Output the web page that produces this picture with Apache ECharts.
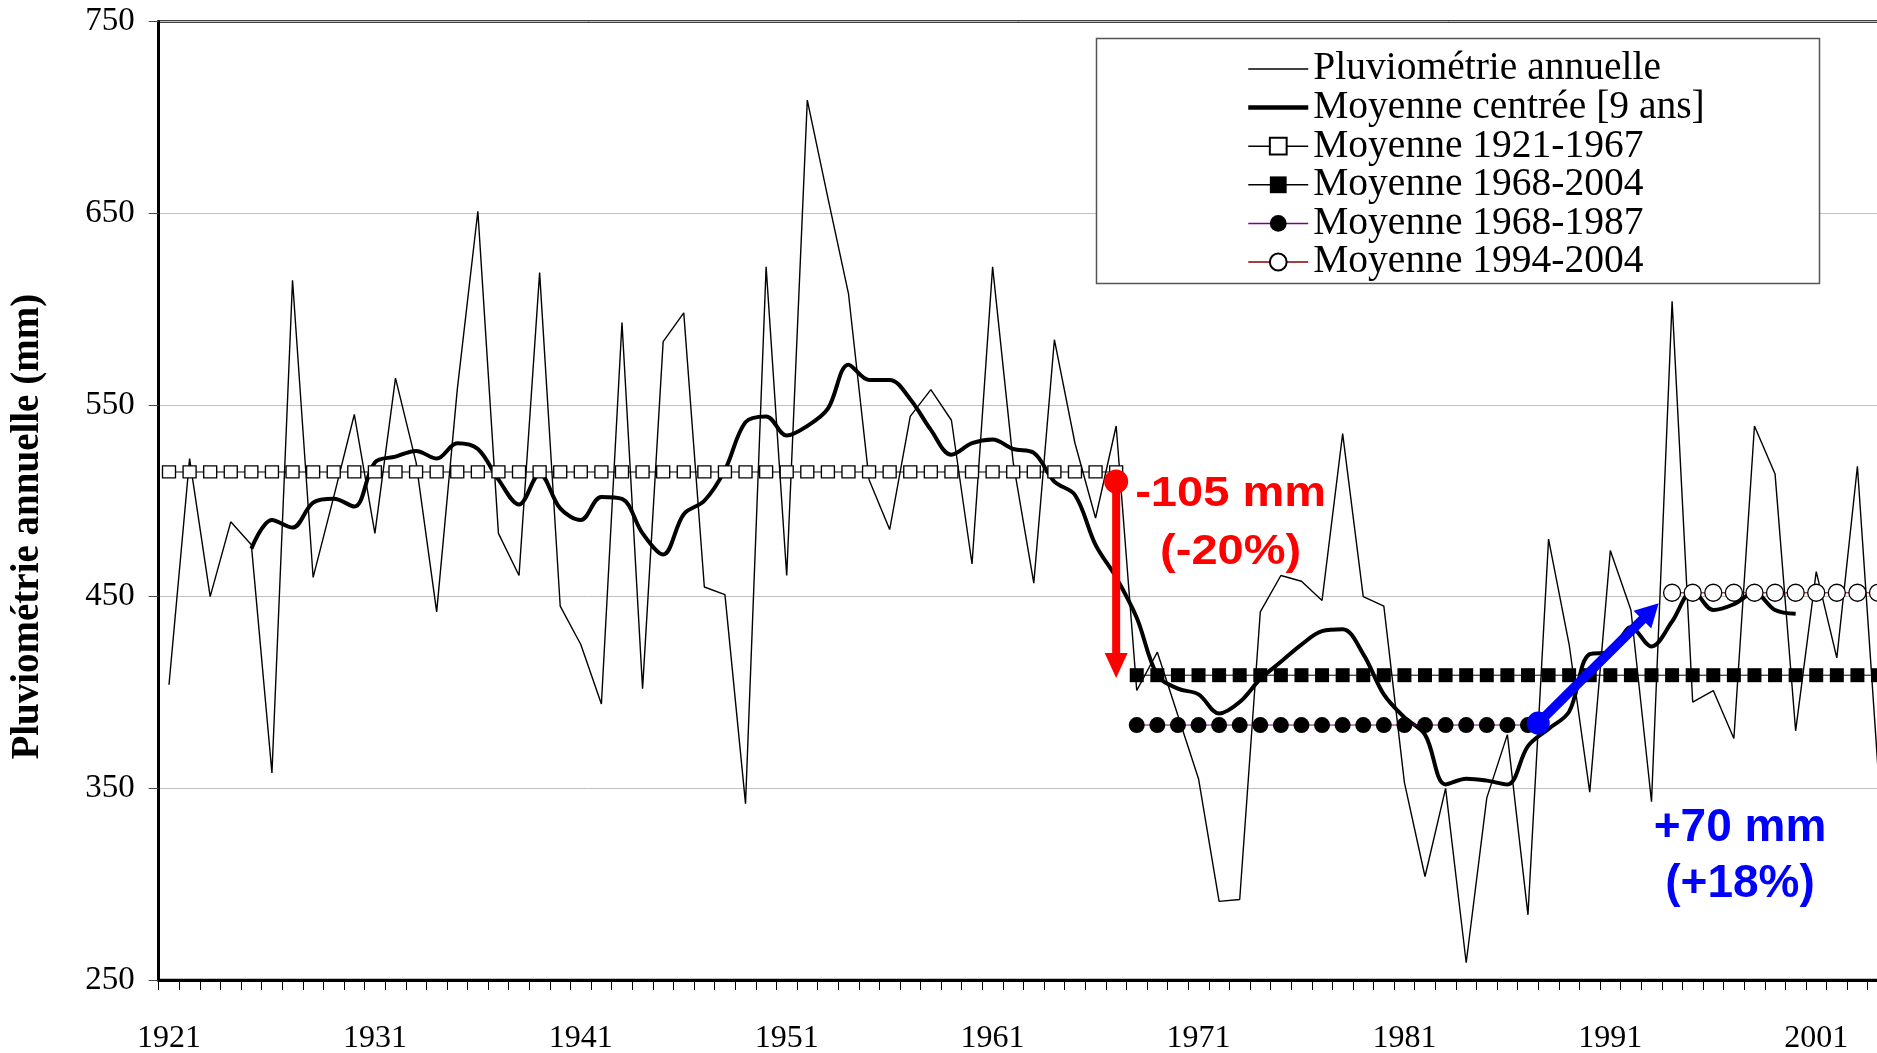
<!DOCTYPE html>
<html>
<head>
<meta charset="utf-8">
<script src="https://cdn.jsdelivr.net/npm/echarts@6/dist/echarts.min.js"></script>
<style>
html,body{margin:0;padding:0;background:#fff;}
#chart{width:1877px;height:1053px;}
</style>
</head>
<body>
<div id="chart"></div>
<script>
// ---- categories ----
const years = [
  1921,1922,1923,1924,1925,1926,1927,1928,1929,1930,
  1931,1932,1933,1934,1935,1936,1937,1938,1939,1940,
  1941,1942,1943,1944,1945,1946,1947,1948,1949,1950,
  1951,1952,1953,1954,1955,1956,1957,1958,1959,1960,
  1961,1962,1963,1964,1965,1966,1967,1968,1969,1970,
  1971,1972,1973,1974,1975,1976,1977,1978,1979,1980,
  1981,1982,1983,1984,1985,1986,1987,1988,1989,1990,
  1991,1992,1993,1994,1995,1996,1997,1998,1999,2000,
  2001,2002,2003,2004
];
// ---- annual rainfall (mm) ----
const annualRain = [
  404,522,450,489,477,358,615,460,502,545,
  483,564,520,442,558,651,483,461,619,445,
  425,394,593,402,583,598,455,451,342,622,
  461,709,658,608,511,485,544,558,542,467,
  622,520,457,584,530,491,539,401,421,388,
  355,291,292,442,461,458,448,535,450,445,
  353,304,350,259,345,378,284,480,425,348,
  474,443,343,604,395,401,376,539,514,380,
  463,418,518,360
];
// ---- 9-year centred moving average (mm) ----
const movingAvg = [
  null,null,null,null,475,490,486,499,501,497,
  520,523,526,522,530,527,511,498,514,496,
  490,502,501,483,472,493,500,516,541,544,
  534,539,548,571,563,563,553,537,524,530,
  532,527,525,510,503,477,460,439,409,402,
  399,389,395,407,416,425,432,433,420,399,
  387,378,352,355,354,352,372,381,390,420,
  421,434,424,437,453,443,446,452,443,441,
  null,null,null,null
];
// ---- period means ----
const meanNames = ['Moyenne 1921-1967','Moyenne 1968-2004','Moyenne 1968-1987','Moyenne 1994-2004'];
const meanFrom = [1921, 1968, 1968, 1994];
const meanTo = [1967, 2004, 1987, 2004];
const meanValues = [515, 409, 383, 452];
// ---- y ticks ----
const yTicks = [250, 350, 450, 550, 650, 750];
// ---- annotations (year, mm) ----
const dropStart = [1967, 510];
const dropEnd = [1967, 407.5];
const riseStart = [1987.5, 384];
const riseEnd = [1993.35, 446.5];
const dropLabels = ['-105 mm', '(-20%)'];
const dropLabelPos = [[1972.56, 503.5], [1972.56, 472.8]];
const riseLabels = ['+70 mm', '(+18%)'];
const riseLabelPos = [[1997.3, 329], [1997.3, 299.8]];

function meanSeriesData(k) {
  return years.map(y => (y >= meanFrom[k] && y <= meanTo[k]) ? meanValues[k] : null);
}

const chart = echarts.init(document.getElementById('chart'), null, {renderer: 'canvas'});
const serif = '"Liberation Serif", "Times New Roman", serif';
const sans = '"Liberation Sans", Arial, sans-serif';

const meanStyles = [
  {symbol: 'rect', size: [13, 12], fill: '#ffffff', border: '#000000', bw: 1.3, line: '#000000'},
  {symbol: 'rect', size: [14, 14], fill: '#000000', border: '#000000', bw: 0, line: '#000000'},
  {symbol: 'circle', size: 16, fill: '#000000', border: '#000000', bw: 0, line: '#800080'},
  {symbol: 'circle', size: 17, fill: '#ffffff', border: '#000000', bw: 1.3, line: '#800000'}
];

const series = [
  {
    name: 'Pluviométrie annuelle', type: 'line', data: annualRain, symbol: 'none',
    lineStyle: {color: '#000', width: 1.4}, itemStyle: {color: '#000'}, z: 2
  },
  {
    name: 'Moyenne centrée [9 ans]', type: 'line', data: movingAvg, symbol: 'none', smooth: 0.35,
    connectNulls: false, lineStyle: {color: '#000', width: 4}, itemStyle: {color: '#000'}, z: 3
  }
];
meanNames.forEach((n, k) => {
  const s = meanStyles[k];
  series.push({
    name: n, type: 'line', data: meanSeriesData(k), symbol: s.symbol, symbolSize: s.size,
    showAllSymbol: true,
    lineStyle: {color: s.line, width: 1},
    itemStyle: {color: s.fill, borderColor: s.border, borderWidth: s.bw},
    z: 4 + k
  });
});

function arrowGroup(p0, p1, color, shaft, headW, headL, dotR) {
  const dx = p1[0] - p0[0], dy = p1[1] - p0[1];
  const len = Math.sqrt(dx * dx + dy * dy);
  const ux = dx / len, uy = dy / len;
  const bx = p1[0] - ux * headL, by = p1[1] - uy * headL;
  const nx = -uy, ny = ux;
  return {
    type: 'group',
    children: [
      {type: 'line', shape: {x1: p0[0], y1: p0[1], x2: bx + ux, y2: by + uy},
       style: {stroke: color, lineWidth: shaft}},
      {type: 'polygon', shape: {points: [[p1[0], p1[1]], [bx + nx * headW / 2, by + ny * headW / 2], [bx - nx * headW / 2, by - ny * headW / 2]]},
       style: {fill: color}},
      {type: 'circle', shape: {cx: p0[0], cy: p0[1], r: dotR}, style: {fill: color}}
    ]
  };
}

const arrowColors = ['#ff0000', '#0000ff'];
const arrowSpec = [
  {shaft: 8, headW: 23, headL: 25, dotR: 12},
  {shaft: 9.5, headW: 25, headL: 23, dotR: 11.5}
];
series.push({
  type: 'custom', name: 'arrows', xAxisIndex: 1, yAxisIndex: 0, silent: true, clip: false, z: 20,
  encode: {x: [0, 2], y: [1, 3]},
  data: [[dropStart[0], dropStart[1], dropEnd[0], dropEnd[1], 0],
         [riseStart[0], riseStart[1], riseEnd[0], riseEnd[1], 1]],
  renderItem: function (params, api) {
    const p0 = api.coord([api.value(0), api.value(1)]);
    const p1 = api.coord([api.value(2), api.value(3)]);
    const k = api.value(4);
    const sp = arrowSpec[k];
    return arrowGroup(p0, p1, arrowColors[k], sp.shaft, sp.headW, sp.headL, sp.dotR);
  }
});

const labelTexts = dropLabels.concat(riseLabels);
const labelPos = dropLabelPos.concat(riseLabelPos);
const labelColor = ['#ff0000', '#ff0000', '#0000ff', '#0000ff'];
const labelFont = ['bold 42px ' + sans, 'bold 42px ' + sans, 'bold 46px ' + sans, 'bold 46px ' + sans];
const labelScale = [1.12, 1.12, 1, 1];
series.push({
  type: 'custom', name: 'labels', xAxisIndex: 1, yAxisIndex: 0, silent: true, clip: false, z: 21,
  data: labelPos.map((p, i) => [p[0], p[1], i]),
  renderItem: function (params, api) {
    const p = api.coord([api.value(0), api.value(1)]);
    const i = api.value(2);
    return {
      type: 'text', x: p[0], y: p[1], scaleX: labelScale[i], scaleY: 1,
      style: {text: labelTexts[i], x: 0, y: 0, align: 'center', verticalAlign: 'middle',
              font: labelFont[i], fill: labelColor[i]}
    };
  }
});

const legendNames = ['Pluviométrie annuelle', 'Moyenne centrée [9 ans]'].concat(meanNames);
const legendData = legendNames.map((n, i) => {
  if (i === 0) return {name: n, itemStyle: {opacity: 0}, lineStyle: {width: 1.3}};
  if (i === 1) return {name: n, itemStyle: {opacity: 0}, lineStyle: {width: 4.5}};
  return {name: n, lineStyle: {width: 1.5}};
});

const option = {
  animation: false,
  backgroundColor: '#ffffff',
  grid: {left: 158.7, top: 21.5, width: 1729.6, height: 958.5, show: true,
         outerBoundsMode: 'none', containLabel: false,
         borderColor: '#000', borderWidth: 2.5, backgroundColor: 'rgba(0,0,0,0)'},
  xAxis: [
    {
      type: 'category', data: years.map(String), boundaryGap: true,
      axisLine: {lineStyle: {color: '#000', width: 3}},
      axisTick: {show: true, interval: 0, length: 10, lineStyle: {color: '#000', width: 1}},
      axisLabel: {interval: 9, fontFamily: serif, fontSize: 32, color: '#000', margin: 43},
      splitLine: {show: false}
    },
    {type: 'value', min: 1920.5, max: 2004.5, show: false}
  ],
  yAxis: {
    type: 'value', min: yTicks[0], max: yTicks[yTicks.length - 1], interval: yTicks[1] - yTicks[0],
    name: 'Pluviométrie annuelle (mm)', nameLocation: 'middle', nameGap: 111, nameRotate: 90,
    nameTextStyle: {fontFamily: serif, fontWeight: 'bold', fontSize: 39, color: '#000', padding: [0, 52, 0, 0]},
    axisLine: {show: true, lineStyle: {color: '#000', width: 3}},
    axisTick: {show: true, length: 10, lineStyle: {color: '#444', width: 1}},
    axisLabel: {fontFamily: serif, fontSize: 33, color: '#000', margin: 24},
    splitLine: {show: true, lineStyle: {color: '#c0c0c0', width: 1}}
  },
  legend: {
    orient: 'vertical', left: 1246, top: 49, padding: 0, itemGap: -1.4,
    itemWidth: 60, itemHeight: 21, z: 10, selectedMode: false,
    textStyle: {fontFamily: serif, fontSize: 39.5, color: '#000'},
    data: legendData
  },
  graphic: [
    {type: 'rect', z: 5, shape: {x: 1096.5, y: 38.5, width: 723, height: 245},
     style: {fill: '#ffffff', stroke: '#555555', lineWidth: 1.5}}
  ],
  series: series
};
chart.setOption(option);
</script>
</body>
</html>
